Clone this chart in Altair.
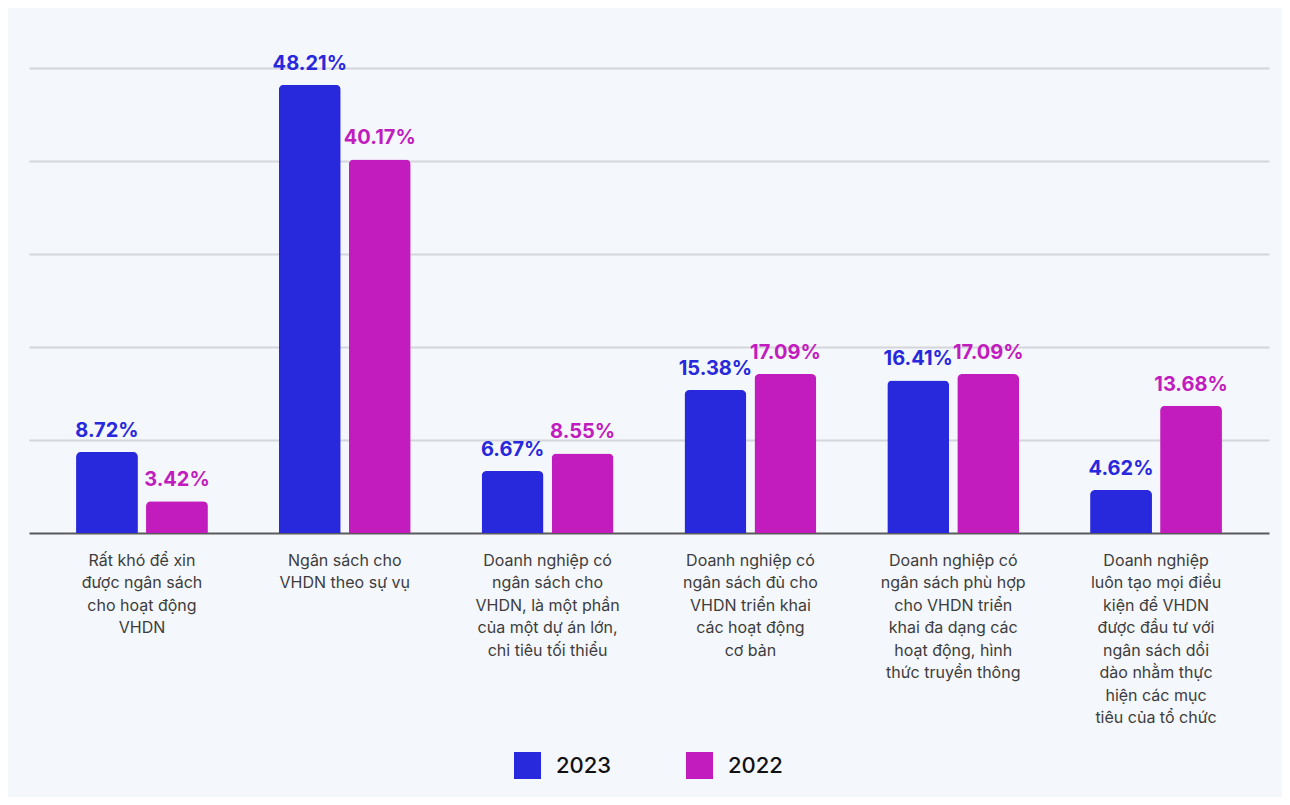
import altair as alt
import pandas as pd

categories = [
    "Rất khó để xin|được ngân sách|cho hoạt động|VHDN",
    "Ngân sách cho|VHDN theo sự vụ",
    "Doanh nghiệp có|ngân sách cho|VHDN, là một phần|của một dự án lớn,|chi tiêu tối thiểu",
    "Doanh nghiệp có|ngân sách đủ cho|VHDN triển khai|các hoạt động|cơ bản",
    "Doanh nghiệp có|ngân sách phù hợp|cho VHDN triển|khai đa dạng các|hoạt động, hình|thức truyền thông",
    "Doanh nghiệp|luôn tạo mọi điều|kiện để VHDN|được đầu tư với|ngân sách dồi|dào nhằm thực|hiện các mục|tiêu của tổ chức",
]
values_2023 = [8.72, 48.21, 6.67, 15.38, 16.41, 4.62]
values_2022 = [3.42, 40.17, 8.55, 17.09, 17.09, 13.68]
series = ["2023", "2022"]
colors = ["#2828DC", "#C21BBE"]

rows = []
for c, a, b in zip(categories, values_2023, values_2022):
    rows.append({"cat": c, "year": "2023", "v": a, "lbl": f"{a:.2f}%"})
    rows.append({"cat": c, "year": "2022", "v": b, "lbl": f"{b:.2f}%"})
df = pd.DataFrame(rows)

FONT = "Inter"

x = alt.X("cat:N", sort=categories, title=None,
          scale=alt.Scale(paddingInner=0.35, paddingOuter=0.232),
          axis=alt.Axis(labelExpr="split(datum.label, '|')", labelAngle=0,
                        labelFontSize=16, labelColor="#3d3d3d", labelFont=FONT,
                        labelLineHeight=22.5, labelPadding=19, labelBaseline="top",
                        labelLimit=300, ticks=False, domain=True,
                        domainColor="#5a5a5a", domainWidth=2, grid=False))
xo = alt.XOffset("year:N", sort=series, scale=alt.Scale(paddingInner=0.116, paddingOuter=0))
y = alt.Y("v:Q", title=None, scale=alt.Scale(domain=[0, 50], nice=False),
          axis=alt.Axis(values=[10, 20, 30, 40, 50], labels=False, ticks=False,
                        domain=False, grid=True, gridColor="#D3D6DB", gridWidth=2))
color = alt.Color("year:N", sort=series,
                  scale=alt.Scale(domain=series, range=colors),
                  legend=alt.Legend(orient="none", legendX=485, legendY=684,
                                    direction="horizontal", title=None,
                                    symbolType="square", symbolSize=729,
                                    symbolStrokeWidth=0, symbolOpacity=1,
                                    labelFontSize=22, labelColor="#111111",
                                    labelFont=FONT, labelFontWeight=500,
                                    labelOffset=15, columnPadding=74, padding=0))

bars = alt.Chart(df).mark_bar(cornerRadiusTopLeft=5, cornerRadiusTopRight=5).encode(
    x=x, xOffset=xo, y=y, color=color)

text = alt.Chart(df).mark_text(baseline="alphabetic", dy=-15, fontSize=20,
                               fontWeight="bold", font=FONT).encode(
    x=alt.X("cat:N", sort=categories), xOffset=alt.XOffset("year:N", sort=series),
    y="v:Q", text="lbl:N",
    color=alt.Color("year:N", sort=series, scale=alt.Scale(domain=series, range=colors), legend=None))

chart = alt.layer(bars, text).properties(
    width=1240, height=465,
    background="#F4F7FC",
    autosize=alt.AutoSizeParams(type="none"),
    padding={"left": 21, "top": 60, "right": 13, "bottom": 264},
).configure_view(stroke=None)

chart.save("out.html", embed_options={"renderer": "svg", "actions": False})
